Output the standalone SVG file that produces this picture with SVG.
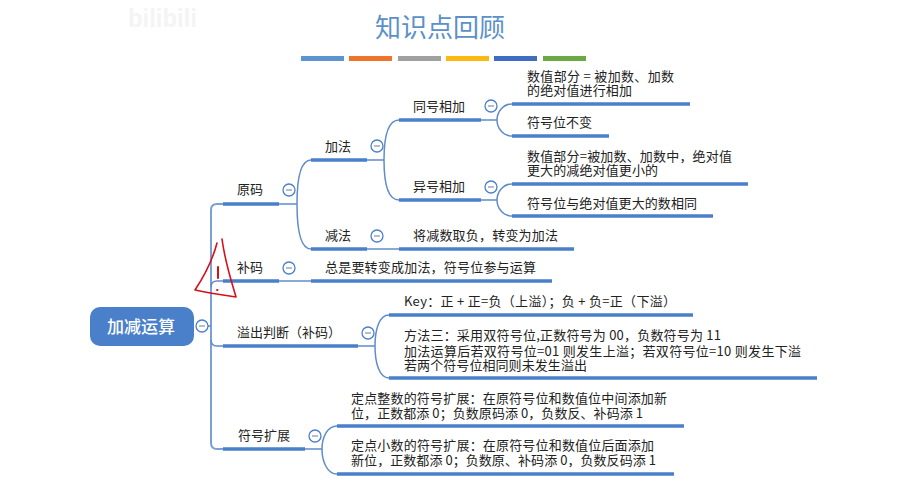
<svg xmlns="http://www.w3.org/2000/svg" width="899" height="483" viewBox="0 0 899 483">
<style>
text{font-family:"Noto Sans CJK SC","Liberation Sans",sans-serif;font-size:13px;fill:#222;dominant-baseline:central;transform:translateY(-1.5px)}
.bar{stroke:#4a7fca;stroke-width:3.5;fill:none}
.link{stroke:#5f8ccb;stroke-width:1.5;fill:none}
.trunk{stroke:#7ba0d6;stroke-width:2;fill:none}
.cc{fill:#fff;stroke:#4a7fca;stroke-width:1.3}
.cm{stroke:#8a9ab5;stroke-width:1.3}
</style>
<defs><g id="col"><circle class="cc" r="6"/><line class="cm" x1="-3" x2="3" y1="0" y2="0"/></g></defs>
<rect width="899" height="483" fill="#fff"/>
<text x="128" y="19" textLength="69" lengthAdjust="spacingAndGlyphs" style="font-size:26px;font-weight:700;fill:#f4f4f4;font-family:'Liberation Sans',sans-serif">bilibili</text>
<text x="375" y="27" style="font-size:26px;fill:#5b91c8">知识点回顾</text>
<g id="title-bars">
<rect x="301" y="56" width="43" height="5" fill="#5b94cf"/>
<rect x="349" y="56" width="43" height="5" fill="#ee7429"/>
<rect x="398" y="56" width="43" height="5" fill="#a0a0a0"/>
<rect x="446" y="56" width="43" height="5" fill="#fdb913"/>
<rect x="494" y="56" width="43" height="5" fill="#3f6dbf"/>
<rect x="543" y="56" width="43" height="5" fill="#6ea845"/>
</g>
<g id="connectors">
<path class="trunk" d="M223 204H217Q211 204 211 210V443Q211 449 217 449H223"/>
<path class="link" d="M211 287Q211 281 217 281H223M211 340Q211 346 217 346H223M208 326H211"/>
<path class="link" d="M279 204H297M311 160C301 160 297 175 297 204C297 233 301 249 311 249"/>
<path class="link" d="M367 160H384M399 120C389 120 384 135 384 160C384 185 389 200 399 200"/>
<path class="link" d="M367 249H399"/>
<path class="link" d="M481 120H497M512 104C503 104 497 112 497 120C497 128 503 136 512 136"/>
<path class="link" d="M481 200H497M512 184C503 184 497 192 497 200C497 208 503 216 512 216"/>
<path class="link" d="M279 281H311"/>
<path class="link" d="M358 346H375M389 315C379 315 375 330 375 346C375 362 379 378 389 378"/>
<path class="link" d="M305 449H322M337 426C327 426 322 438 322 449C322 461 327 474 337 474"/>
</g>
<g id="root"><rect x="90" y="307" width="104" height="39" rx="10" fill="#4a7fca"/><text x="107" y="327" textLength="68" style="font-size:17px;fill:#fff;font-weight:500">加减运算</text><use href="#col" x="202" y="326"/></g>
<g id="yuanma"><line class="bar" x1="223" x2="279" y1="204" y2="204"/><text x="237" y="190">原码</text><use href="#col" x="289" y="190"/></g>
<g id="jiafa"><line class="bar" x1="311" x2="367" y1="160" y2="160"/><text x="325" y="147">加法</text><use href="#col" x="377" y="146"/></g>
<g id="tonghao"><line class="bar" x1="399" x2="481" y1="120" y2="120"/><text x="413" y="107">同号相加</text><use href="#col" x="491" y="106"/></g>
<g id="yihao"><line class="bar" x1="399" x2="481" y1="200" y2="200"/><text x="413" y="187">异号相加</text><use href="#col" x="491" y="187"/></g>
<g id="jianfa"><line class="bar" x1="311" x2="367" y1="249" y2="249"/><text x="325" y="236">减法</text><use href="#col" x="377" y="236"/></g>
<g id="jianfa-note"><line class="bar" x1="399" x2="574" y1="249" y2="249"/><text x="413" y="236" textLength="145">将减数取负，转变为加法</text></g>
<g id="t1"><line class="bar" x1="512" x2="690" y1="104" y2="104"/><text x="527" y="77" textLength="147">数值部分 = 被加数、加数</text><text x="527" y="91" textLength="105">的绝对值进行相加</text></g>
<g id="t2"><line class="bar" x1="512" x2="609" y1="136" y2="136"/><text x="527" y="123" textLength="65">符号位不变</text></g>
<g id="t3"><line class="bar" x1="512" x2="748" y1="184" y2="184"/><text x="527" y="157" textLength="205">数值部分=被加数、加数中，绝对值</text><text x="527" y="171" textLength="131">更大的减绝对值更小的</text></g>
<g id="t4"><line class="bar" x1="512" x2="713" y1="216" y2="216"/><text x="527" y="204" textLength="170">符号位与绝对值更大的数相同</text></g>
<g id="buma"><line class="bar" x1="223" x2="279" y1="281" y2="281"/><text x="237" y="268">补码</text><use href="#col" x="289" y="268"/></g>
<g id="buma-note"><line class="bar" x1="311" x2="552" y1="281" y2="281"/><text x="325" y="268" textLength="211">总是要转变成加法，符号位参与运算</text></g>
<g id="yichu"><line class="bar" x1="223" x2="358" y1="346" y2="346"/><text x="237" y="333" textLength="104">溢出判断（补码）</text><use href="#col" x="368" y="333"/></g>
<g id="key"><line class="bar" x1="389" x2="693" y1="315" y2="315"/><text x="404" y="302" textLength="272">Key：正 + 正=负（上溢）；负 + 负=正（下溢）</text></g>
<g id="fangfa"><line class="bar" x1="389" x2="817" y1="378" y2="378"/><text x="404" y="336" textLength="317">方法三：采用双符号位,正数符号为 00，负数符号为 11</text><text x="404" y="352" textLength="397">加法运算后若双符号位=01 则发生上溢；若双符号位=10 则发生下溢</text><text x="404" y="366" textLength="183">若两个符号位相同则未发生溢出</text></g>
<g id="kuozhan"><line class="bar" x1="223" x2="305" y1="449" y2="449"/><text x="238" y="436">符号扩展</text><use href="#col" x="315" y="436"/></g>
<g id="k1"><line class="bar" x1="337" x2="684" y1="426" y2="426"/><text x="351" y="399" textLength="316">定点整数的符号扩展：在原符号位和数值位中间添加新</text><text x="351" y="414" textLength="292">位，正数都添 0；负数原码添 0，负数反、补码添 1</text></g>
<g id="k2"><line class="bar" x1="337" x2="674" y1="474" y2="474"/><text x="351" y="446" textLength="303">定点小数的符号扩展：在原符号位和数值位后面添加</text><text x="351" y="461" textLength="305">新位，正数都添 0；负数原、补码添 0，负数反码添 1</text></g>
<g id="annotation" fill="none" stroke="#d5101a" stroke-width="1.6" stroke-linecap="round" stroke-linejoin="round">
<path d="M217 243C212 262 203 278 195 290C208 293 222 295 236 297C231 280 225 262 222 239"/>
<path d="M218 267V278" stroke-width="2"/><path d="M217 290h0.6" stroke-width="1.8"/>
</g>
</svg>
